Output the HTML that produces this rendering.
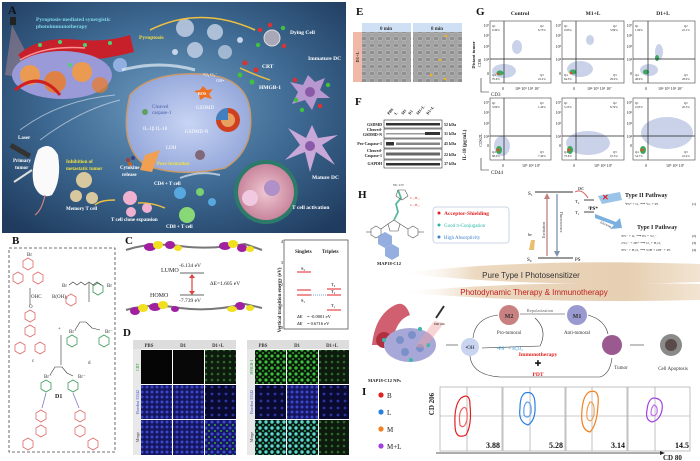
<!DOCTYPE html>
<html><head><meta charset="utf-8"><style>
html,body{margin:0;padding:0;background:#fff;width:700px;height:461px;overflow:hidden}
svg{display:block}
text{font-family:"Liberation Serif",serif}
.s{font-family:"Liberation Sans",sans-serif}
</style></head><body>
<svg width="700" height="461" viewBox="0 0 700 461" xmlns="http://www.w3.org/2000/svg">
<defs>
<radialGradient id="bgA" cx="0.5" cy="0.45" r="0.7">
<stop offset="0" stop-color="#6f9cc0"/><stop offset="0.5" stop-color="#3f6b94"/><stop offset="1" stop-color="#1f3b5e"/></radialGradient>
<radialGradient id="cellG" cx="0.5" cy="0.5" r="0.6"><stop offset="0" stop-color="#c8d4f4"/><stop offset="1" stop-color="#8fa3d8"/></radialGradient>
<radialGradient id="pinkG" cx="0.5" cy="0.5" r="0.6"><stop offset="0" stop-color="#f0c8d4"/><stop offset="1" stop-color="#c07890"/></radialGradient>
<linearGradient id="ban" x1="0" y1="0" x2="1" y2="0"><stop offset="0" stop-color="#fff" stop-opacity="0"/><stop offset="0.25" stop-color="#ecd9c0"/><stop offset="0.75" stop-color="#e6cfb2"/><stop offset="1" stop-color="#f2e4d2"/></linearGradient>
<pattern id="pg" width="6" height="6" patternUnits="userSpaceOnUse"><rect width="6" height="6" fill="#0a1a0a"/><circle cx="2" cy="2" r="1.6" fill="#3fbf3f"/><circle cx="5" cy="5" r="1.1" fill="#2a8a2a"/></pattern>
<pattern id="pgd" width="6" height="6" patternUnits="userSpaceOnUse"><rect width="6" height="6" fill="#0d1a0d"/><circle cx="2" cy="2" r="1.3" fill="#2a6a2a"/></pattern>
<pattern id="pb" width="5" height="5" patternUnits="userSpaceOnUse"><rect width="5" height="5" fill="#151560"/><circle cx="2" cy="2" r="1.5" fill="#3a48c8"/></pattern>
<pattern id="pbd" width="7" height="7" patternUnits="userSpaceOnUse"><rect width="7" height="7" fill="#0a0a30"/><circle cx="2" cy="2" r="1.4" fill="#2a34a0"/></pattern>
<pattern id="pc" width="6" height="6" patternUnits="userSpaceOnUse"><rect width="6" height="6" fill="#0a1a1a"/><circle cx="2" cy="2" r="1.7" fill="#5fd8c8"/><circle cx="5" cy="5" r="1.1" fill="#2aa060"/></pattern>
<pattern id="pm" width="6" height="6" patternUnits="userSpaceOnUse"><rect width="6" height="6" fill="#16166a"/><circle cx="2" cy="2" r="1.5" fill="#3a50c8"/><circle cx="5" cy="5" r="1" fill="#3aa040"/></pattern>
<pattern id="gr" width="8" height="7" patternUnits="userSpaceOnUse"><rect width="8" height="7" fill="#a4a4a4"/><ellipse cx="4" cy="3.5" rx="2.8" ry="2" fill="#8e8e8e" stroke="#c8c8c8" stroke-width="0.5"/></pattern>
</defs>

<!-- ========== PANEL A ========== -->
<rect x="2" y="2" width="344" height="231" fill="url(#bgA)"/>
<text x="8" y="14" font-size="12" font-weight="bold" fill="#111">A</text>
<text x="36" y="21" font-size="5.5" font-weight="bold" fill="#7fd8e8">Pyroptosis-mediated synergistic</text>
<text x="36" y="28" font-size="5.5" font-weight="bold" fill="#7fd8e8">photoimmunotherapy</text>
<rect x="10" y="17" width="6" height="8" fill="#222"/>
<polygon points="12,25 40,80 5,75" fill="#e8a0a0" opacity="0.35"/>
<path d="M18 55 Q40 35 80 40 Q110 42 130 35 L134 52 Q110 58 90 60 Q60 62 40 80 Z" fill="#c8202a"/>
<path d="M20 60 Q45 45 85 48" stroke="#ff9090" stroke-width="1.5" fill="none"/>
<ellipse cx="62" cy="75" rx="50" ry="24" fill="#9a9ad8"/>
<circle cx="30" cy="75" r="10" fill="#ff9a30" opacity="0.8"/><circle cx="55" cy="82" r="11" fill="#f07a20" opacity="0.8"/>
<circle cx="82" cy="72" r="10" fill="#ff9a30" opacity="0.8"/><circle cx="100" cy="85" r="8" fill="#f07a20" opacity="0.7"/>
<path d="M15 90 Q40 70 60 95" stroke="#d02020" stroke-width="3" fill="none"/>
<circle cx="40" cy="45" r="2" fill="#50d070"/><circle cx="60" cy="42" r="2" fill="#50d070"/><circle cx="85" cy="45" r="2" fill="#50d070"/><circle cx="110" cy="43" r="2" fill="#50d070"/><circle cx="70" cy="65" r="2" fill="#50d070"/>
<circle cx="120" cy="65" r="7" fill="#8fb0e0"/>
<path d="M20 130 Q60 100 115 95" stroke="#dfe8f5" stroke-width="1" fill="none" opacity="0.6"/>
<path d="M40 140 Q80 110 120 100" stroke="#dfe8f5" stroke-width="1" fill="none" opacity="0.6"/>
<path d="M122 70 Q160 60 195 70" stroke="#e6eef8" stroke-width="3" fill="none" opacity="0.7"/>
<circle cx="185" cy="28" r="9" fill="#c8d4e8" opacity="0.8"/><circle cx="215" cy="32" r="8" fill="#c8d4e8" opacity="0.8"/><circle cx="195" cy="50" r="8" fill="#c8d4e8" opacity="0.8"/><circle cx="225" cy="52" r="7" fill="#c8d4e8" opacity="0.7"/><circle cx="175" cy="52" r="3" fill="#c8d4e8"/><circle cx="240" cy="40" r="3" fill="#c8d4e8"/>
<text x="139" y="39" font-size="5.5" font-weight="bold" fill="#f0e040">Pyroptosis</text>
<path d="M150 30 Q200 5 255 30" stroke="#f0c040" stroke-width="1.6" fill="none"/>
<circle cx="272" cy="38" r="8" fill="#a8a8b8" stroke="#ddd" stroke-width="1"/>
<circle cx="260" cy="30" r="2.2" fill="#e03030"/><circle cx="283" cy="28" r="2.2" fill="#40c040"/><circle cx="258" cy="45" r="2.2" fill="#40c040"/><circle cx="284" cy="46" r="2.2" fill="#e03030"/><circle cx="270" cy="25" r="2.2" fill="#e03030"/>
<text x="290" y="34" font-size="5.5" font-weight="bold" fill="#fff">Dying Cell</text>
<text x="308" y="60" font-size="5.5" font-weight="bold" fill="#fff">Immature DC</text>
<text x="262" y="68" font-size="5.5" font-weight="bold" fill="#fff">CRT</text>
<text x="259" y="89" font-size="5.5" font-weight="bold" fill="#fff">HMGB-1</text>
<circle cx="245" cy="63" r="2.5" fill="#e03030"/><circle cx="256" cy="70" r="2.5" fill="#e03030"/><circle cx="240" cy="75" r="2.5" fill="#40c040"/><circle cx="252" cy="82" r="2.5" fill="#40c040"/>
<path d="M240 68 Q255 75 270 80" stroke="#f0c040" stroke-width="1.4" fill="none"/>
<path d="M308 75 L315 82 L325 78 L320 90 L330 98 L317 98 L312 110 L305 100 L292 104 L298 92 L290 82 L303 85 Z" fill="#b898d0"/>
<circle cx="310" cy="92" r="5" fill="#8a5aa8"/>
<circle cx="295" cy="80" r="2.2" fill="#e03030"/><circle cx="328" cy="85" r="2.2" fill="#40c040"/><circle cx="296" cy="100" r="2.2" fill="#40c040"/><circle cx="320" cy="106" r="2.2" fill="#e03030"/><circle cx="302" cy="110" r="2.2" fill="#40c040"/>
<path d="M312 125 L318 138 L338 135 L322 145 L335 165 L316 152 L310 172 L305 152 L285 160 L300 145 L288 128 L306 138 Z" fill="#c8a8d8"/>
<circle cx="310" cy="146" r="5" fill="#8a5aa8"/>
<text x="312" y="179" font-size="5.5" font-weight="bold" fill="#fff">Mature DC</text>
<path d="M130 95 Q150 72 200 74 Q245 76 250 110 Q255 150 225 168 Q180 178 145 165 Q118 145 130 95 Z" fill="url(#cellG)" stroke="#c89a70" stroke-width="1.5"/>
<polygon points="203,86 207,90 213,89 209,94 212,99 205,97 200,100 199,94 194,91 200,90" fill="#f07020"/>
<text x="198" y="95" font-size="4" fill="#fff" font-weight="bold">ROS</text>
<text x="203" y="76" font-size="4.5" fill="#fff">¹O₂ O₂⁻</text><text x="216" y="82" font-size="4.5" fill="#fff">OH•</text>
<text x="152" y="108" font-size="5" fill="#4b5ea8">Cleaved</text><text x="152" y="114" font-size="5" fill="#4b5ea8">caspase-1</text>
<text x="196" y="109" font-size="5" fill="#fff">GSDMD</text>
<text x="143" y="130" font-size="5" fill="#fff">IL-1β  IL-18</text>
<text x="185" y="133" font-size="5" fill="#fff">GSDMD-N</text>
<text x="166" y="149" font-size="5" fill="#fff">LDH</text>
<circle cx="228" cy="120" r="12" fill="#d04020"/><circle cx="228" cy="120" r="7" fill="#e8a060"/><path d="M216 120 A12 12 0 0 1 228 108 L228 120Z" fill="#4080c0"/>
<circle cx="145" cy="112" r="3" fill="#60a060"/>
<circle cx="200" cy="155" r="5" fill="#806878"/>
<polygon points="145,155 160,150 152,172 140,170" fill="#f0a050"/>
<text x="157" y="165" font-size="5" font-weight="bold" fill="#f0e040">Pore formation</text>
<circle cx="128" cy="160" r="2" fill="#a04040"/><circle cx="133" cy="158" r="2" fill="#404080"/><circle cx="130" cy="164" r="2" fill="#c06020"/>
<text x="120" y="169" font-size="5" font-weight="bold" fill="#fff">Cytokine</text><text x="122" y="176" font-size="5" font-weight="bold" fill="#fff">release</text>
<circle cx="266" cy="192" r="32" fill="#2d7a6a"/>
<circle cx="266" cy="192" r="28" fill="url(#pinkG)"/>
<circle cx="250" cy="198" r="8" fill="#f0c8e0"/><circle cx="272" cy="188" r="8" fill="#b090c8"/>
<path d="M220 175 Q200 170 180 178" stroke="#dfe8f5" stroke-width="2" fill="none" opacity="0.7"/>
<text x="292" y="209" font-size="5.5" font-weight="bold" fill="#fff">T cell activation</text>
<text x="154" y="185" font-size="5" font-weight="bold" fill="#fff">CD4 + T cell</text>
<text x="166" y="228" font-size="5" font-weight="bold" fill="#fff">CD8 + T cell</text>
<circle cx="180" cy="193" r="6" fill="#58a8e0"/><circle cx="200" cy="192" r="4" fill="#7ad070"/><circle cx="212" cy="202" r="4" fill="#58a8e0"/><circle cx="187" cy="215" r="8" fill="#88d878"/>
<circle cx="130" cy="198" r="7" fill="#f0b0d0"/><circle cx="147" cy="208" r="5" fill="#f0b0d0"/><circle cx="131" cy="212" r="5" fill="#f0b0d0"/>
<text x="111" y="221" font-size="5" font-weight="bold" fill="#fff">T cell clone expansion</text>
<circle cx="84" cy="180" r="8" fill="#d8c8a0"/><circle cx="76" cy="196" r="6" fill="#d8c8a0"/><circle cx="92" cy="198" r="6" fill="#d8c8a0"/>
<text x="66" y="210" font-size="5" font-weight="bold" fill="#fff">Memory T cell</text>
<text x="66" y="163" font-size="5" font-weight="bold" fill="#f0e040">Inhibition of</text><text x="66" y="170" font-size="5" font-weight="bold" fill="#f0e040">metastatic tumor</text>
<text x="18" y="139" font-size="5" font-weight="bold" fill="#fff">Laser</text>
<text x="13" y="162" font-size="5" font-weight="bold" fill="#fff">Primary</text><text x="15" y="169" font-size="5" font-weight="bold" fill="#fff">tumor</text>
<rect x="12" y="143" width="22" height="5" fill="#333" transform="rotate(30 12 143)"/>
<path d="M38 150 Q50 140 58 155 Q62 180 52 195 Q40 200 34 185 Q30 170 38 150Z" fill="#fafafa"/>
<path d="M45 195 Q42 210 35 215" stroke="#d08080" stroke-width="1.2" fill="none"/>
<line x1="14" y1="182" x2="32" y2="170" stroke="#ddd" stroke-width="2"/>
<path d="M115 200 Q100 200 95 205" stroke="#f0c040" stroke-width="1.4" fill="none"/>
<path d="M165 208 Q150 202 138 203" stroke="#f0c040" stroke-width="1.4" fill="none"/>

<!-- ========== PANEL B ========== -->
<text x="12" y="244" font-size="11" font-weight="bold" fill="#111">B</text>
<rect x="9" y="248" width="106" height="204" fill="none" stroke="#444" stroke-width="0.8" stroke-dasharray="3,2"/>
<g stroke="#e06a6a" fill="none" stroke-width="0.8">
<polygon points="28,258 33,261 33,267 28,270 23,267 23,261"/>
<polygon points="18,272 23,275 23,281 18,284 13,281 13,275"/>
<polygon points="38,272 43,275 43,281 38,284 33,281 33,275"/>
<polygon points="30,325 35,328 35,334 30,337 25,334 25,328"/>
<polygon points="20,342 25,345 25,351 20,354 15,351 15,345"/>
<polygon points="40,342 45,345 45,351 40,354 35,351 35,345"/>
<polygon points="30,310 35,313 35,319 30,322 25,319 25,313"/>
<polygon points="41,410 46,413 46,419 41,422 36,419 36,413"/>
<polygon points="41,425 46,428 46,434 41,437 36,434 36,428"/>
<polygon points="28,438 33,441 33,447 28,450 23,447 23,441"/>
<polygon points="80,410 85,413 85,419 80,422 75,419 75,413"/>
<polygon points="80,425 85,428 85,434 80,437 75,434 75,428"/>
<polygon points="93,438 98,441 98,447 93,450 88,447 88,441"/>
<polygon points="71,294 76,297 76,303 71,306 66,303 66,297"/>
</g>
<g stroke="#3a9a5a" fill="none" stroke-width="0.8">
<polygon points="98,283 103,286 103,292 98,295 93,292 93,286"/>
<polygon points="72,335 77,338 77,344 72,347 67,344 67,338"/>
<polygon points="104,335 109,338 109,344 104,347 99,344 99,338"/>
<polygon points="46,380 51,383 51,389 46,392 41,389 41,383"/>
<polygon points="73,380 78,383 78,389 73,392 68,389 68,383"/>
</g>
<text x="27" y="256" font-size="5" fill="#333">Br</text>
<text x="62" y="287" font-size="5" fill="#333">Br</text><text x="107" y="287" font-size="5" fill="#333">Br</text>
<path d="M69 285 l4 -3 l4 3 l4 -3 l4 3 l4 -3 l4 3 l4 -3 l4 3" stroke="#333" fill="none" stroke-width="0.6"/>
<line x1="30" y1="288" x2="30" y2="305" stroke="#333" stroke-width="0.6"/>
<text x="31" y="298" font-size="5" fill="#333">OHC</text><text x="52" y="298" font-size="5" fill="#333">B(OH)₂</text>
<line x1="89" y1="283" x2="89" y2="302" stroke="#333" stroke-width="0.6"/>
<text x="29" y="308" font-size="5" fill="#333">O</text>
<text x="32" y="362" font-size="5" fill="#333">c</text><text x="88" y="364" font-size="5" fill="#333">d</text>
<text x="58" y="330" font-size="5" fill="#333">+</text>
<line x1="61" y1="335" x2="61" y2="365" stroke="#333" stroke-width="0.6"/>
<text x="69" y="333" font-size="5" fill="#333">Br⁻</text><text x="105" y="333" font-size="5" fill="#333">Br⁻</text>
<path d="M75 330 L80 322 L86 322 L92 328 L100 330" stroke="#333" fill="none" stroke-width="0.6"/>
<text x="44" y="378" font-size="5" fill="#333">Br⁻</text><text x="78" y="378" font-size="5" fill="#333">Br⁻</text>
<path d="M50 375 L55 367 L62 367 L67 373 L73 376" stroke="#333" fill="none" stroke-width="0.6"/>
<text x="55" y="398" font-size="6" font-weight="bold" fill="#222">D1</text>
<line x1="46" y1="393" x2="42" y2="408" stroke="#7a7acc" stroke-width="0.8"/><line x1="73" y1="393" x2="79" y2="408" stroke="#7a7acc" stroke-width="0.8"/>

<!-- ========== PANEL C ========== -->
<text x="125" y="244" font-size="11" font-weight="bold" fill="#111">C</text>
<path d="M126 250 Q150 242 180 246 Q210 250 245 244 L262 250" stroke="#777" stroke-width="2" fill="none"/>
<g fill="#a020a0"><ellipse cx="150" cy="247" rx="6" ry="4"/><ellipse cx="170" cy="245" rx="5" ry="4"/><ellipse cx="225" cy="246" rx="6" ry="4"/><ellipse cx="242" cy="248" rx="5" ry="4"/></g>
<g fill="#f0e020"><ellipse cx="158" cy="245" rx="5" ry="4"/><ellipse cx="178" cy="248" rx="4" ry="3"/><ellipse cx="233" cy="244" rx="5" ry="4"/><ellipse cx="250" cy="249" rx="4" ry="3"/></g>
<text x="161" y="272" font-size="6" fill="#222">LUMO</text>
<text x="179" y="267" font-size="5.5" fill="#222">-6.134 eV</text>
<line x1="180" y1="273" x2="204" y2="273" stroke="#333" stroke-width="0.8"/>
<line x1="192" y1="276" x2="192" y2="293" stroke="#e04040" stroke-width="1.2"/>
<polygon points="189,278 192,274 195,278" fill="#e04040"/><polygon points="189,291 192,295 195,291" fill="#e04040"/>
<text x="210" y="285" font-size="5.5" fill="#222">ΔE=1.605 eV</text>
<text x="150" y="297" font-size="6" fill="#222">HOMO</text>
<line x1="180" y1="295" x2="204" y2="295" stroke="#333" stroke-width="0.8"/>
<text x="179" y="302" font-size="5.5" fill="#222">-7.739 eV</text>
<path d="M126 310 Q150 303 180 308 Q210 312 245 304 L262 308" stroke="#777" stroke-width="2" fill="none"/>
<g fill="#a020a0"><ellipse cx="135" cy="311" rx="5" ry="4"/><ellipse cx="155" cy="307" rx="6" ry="4"/><ellipse cx="175" cy="309" rx="4" ry="3"/><ellipse cx="240" cy="306" rx="5" ry="4"/></g>
<g fill="#f0e020"><ellipse cx="143" cy="308" rx="5" ry="4"/><ellipse cx="163" cy="305" rx="5" ry="4"/><ellipse cx="232" cy="309" rx="5" ry="3"/><ellipse cx="250" cy="308" rx="4" ry="3"/></g>
<rect x="284" y="240" width="64" height="89" fill="#fff" stroke="#555" stroke-width="0.8"/>
<text x="281" y="300" font-size="5" fill="#222" transform="rotate(-90 281 300)" text-anchor="middle" font-weight="bold">Vertical transition energy (eV)</text>
<text x="283" y="243" font-size="4.5" fill="#222" text-anchor="end">4</text><text x="283" y="264" font-size="4.5" fill="#222" text-anchor="end">3</text><text x="283" y="286" font-size="4.5" fill="#222" text-anchor="end">2</text><text x="283" y="307" font-size="4.5" fill="#222" text-anchor="end">1</text><text x="283" y="329" font-size="4.5" fill="#222" text-anchor="end">0</text>
<text x="295" y="253" font-size="5" font-weight="bold" fill="#222">Singlets</text><text x="322" y="253" font-size="5" font-weight="bold" fill="#222">Triplets</text>
<line x1="297" y1="272" x2="311" y2="272" stroke="#e02020" stroke-width="1"/><text x="301" y="270" font-size="4.5">S₂</text>
<line x1="297" y1="290" x2="311" y2="290" stroke="#e02020" stroke-width="1"/>
<line x1="297" y1="295" x2="311" y2="295" stroke="#e02020" stroke-width="1"/><text x="301" y="302" font-size="4.5">S₁</text>
<line x1="311" y1="295" x2="327" y2="295" stroke="#4080c0" stroke-width="0.8" stroke-dasharray="1,1"/>
<line x1="327" y1="289" x2="341" y2="289" stroke="#e02020" stroke-width="1"/><text x="331" y="286" font-size="4.5">T₃</text>
<line x1="327" y1="295" x2="341" y2="295" stroke="#e02020" stroke-width="1"/><text x="331" y="293" font-size="4.5">T₂</text>
<line x1="327" y1="310" x2="341" y2="310" stroke="#e02020" stroke-width="1"/><text x="331" y="307" font-size="4.5">T₁</text>
<text x="297" y="318" font-size="4.5" font-style="italic">ΔE</text><text x="307" y="318" font-size="4.5">= -0.0001 eV</text>
<text x="297" y="325" font-size="4.5" font-style="italic">ΔE</text><text x="307" y="325" font-size="4.5">= 0.6716 eV</text>

<!-- ========== PANEL D ========== -->
<text x="123" y="336" font-size="11" font-weight="bold" fill="#111">D</text>
<g font-size="4.8" font-weight="bold" fill="#333" text-anchor="middle">
<rect x="133" y="340" width="103" height="9" fill="#ddd"/>
<text x="149" y="347">PBS</text><text x="183" y="347">D1</text><text x="218" y="347">D1+L</text>
<rect x="247" y="340" width="102" height="9" fill="#ddd"/>
<text x="263" y="347">PBS</text><text x="297" y="347">D1</text><text x="332" y="347">D1+L</text>
</g>
<rect x="133" y="349" width="8" height="106" fill="#e8e8e8"/><rect x="247" y="349" width="8" height="106" fill="#e8e8e8"/>
<g font-size="4" fill="#444" text-anchor="middle">
<text x="139" y="367" transform="rotate(-90 139 367)" fill="#2a9a2a">CRT</text>
<text x="139" y="402" transform="rotate(-90 139 402)" fill="#3a48c8">Hoechst 33342</text>
<text x="139" y="437" transform="rotate(-90 139 437)">Merge</text>
<text x="253" y="367" transform="rotate(-90 253 367)" fill="#2a9a2a">HMGB-1</text>
<text x="253" y="402" transform="rotate(-90 253 402)" fill="#3a48c8">Hoechst 33342</text>
<text x="253" y="437" transform="rotate(-90 253 437)">Merge</text>
</g>
<rect x="141" y="350" width="31" height="34" fill="#050505"/><rect x="173" y="350" width="31" height="34" fill="#080808"/><rect x="205" y="350" width="31" height="34" fill="url(#pgd)"/>
<rect x="141" y="385" width="31" height="34" fill="url(#pb)"/><rect x="173" y="385" width="31" height="34" fill="url(#pb)"/><rect x="205" y="385" width="31" height="34" fill="url(#pbd)"/>
<rect x="141" y="420" width="31" height="35" fill="url(#pb)"/><rect x="173" y="420" width="31" height="35" fill="url(#pb)"/><rect x="205" y="420" width="31" height="35" fill="url(#pm)"/>
<rect x="255" y="350" width="31" height="34" fill="url(#pg)"/><rect x="287" y="350" width="31" height="34" fill="url(#pg)"/><rect x="319" y="350" width="30" height="34" fill="url(#pgd)"/>
<rect x="255" y="385" width="31" height="34" fill="url(#pbd)"/><rect x="287" y="385" width="31" height="34" fill="url(#pb)"/><rect x="319" y="385" width="30" height="34" fill="url(#pbd)"/>
<rect x="255" y="420" width="31" height="35" fill="url(#pc)"/><rect x="287" y="420" width="31" height="35" fill="url(#pc)"/><rect x="319" y="420" width="30" height="35" fill="url(#pgd)"/>

<!-- ========== PANEL E ========== -->
<text x="356" y="15" font-size="11" font-weight="bold" fill="#111">E</text>
<rect x="353" y="32" width="9" height="50" fill="#f0b8a8"/>
<text x="359" y="57" font-size="4.5" font-weight="bold" fill="#333" transform="rotate(-90 359 57)" text-anchor="middle">D1+L</text>
<rect x="362" y="23" width="49" height="9" fill="#cfe0f4"/><rect x="413" y="23" width="49" height="9" fill="#cfe0f4"/>
<text x="386" y="30" font-size="5" font-weight="bold" text-anchor="middle" fill="#333">0 min</text>
<text x="437" y="30" font-size="5" font-weight="bold" text-anchor="middle" fill="#333">8 min</text>
<rect x="362" y="32" width="49" height="50" fill="url(#gr)"/>
<rect x="413" y="32" width="49" height="50" fill="url(#gr)"/>
<g fill="#f0b020"><circle cx="446" cy="36" r="1.3"/><circle cx="440" cy="60" r="1.3"/><circle cx="431" cy="75" r="1.3"/><circle cx="445" cy="79" r="1.3"/></g>

<!-- ========== PANEL F ========== -->
<text x="355" y="105" font-size="11" font-weight="bold" fill="#111">F</text>
<g font-size="4" fill="#222" font-weight="bold">
<text x="389" y="115" transform="rotate(-50 389 115)">PBS</text><text x="396" y="115" transform="rotate(-50 396 115)">L</text><text x="403" y="115" transform="rotate(-50 403 115)">M1</text><text x="410" y="115" transform="rotate(-50 410 115)">D1</text><text x="418" y="115" transform="rotate(-50 418 115)">M1+L</text><text x="428" y="115" transform="rotate(-50 428 115)">D1+L</text>
<text x="382" y="126" text-anchor="end">GSDMD</text>
<text x="382" y="131" text-anchor="end">Cleaved-</text><text x="382" y="136" text-anchor="end">GSDMD-N</text>
<text x="382" y="145" text-anchor="end">Pro-Caspase-1</text>
<text x="382" y="152" text-anchor="end">Cleaved-</text><text x="382" y="157" text-anchor="end">Caspase-1</text>
<text x="382" y="165" text-anchor="end">GAPDH</text>
<text x="444" y="126">52 kDa</text><text x="444" y="135">31 kDa</text><text x="444" y="145">45 kDa</text><text x="444" y="156">22 kDa</text><text x="444" y="165">37 kDa</text>
</g>
<g fill="#fff" stroke="#333" stroke-width="0.6">
<rect x="384" y="120" width="58" height="8"/><rect x="384" y="129" width="58" height="9"/><rect x="384" y="139" width="58" height="9"/><rect x="384" y="149" width="58" height="10"/><rect x="384" y="160" width="58" height="8"/>
</g>
<g fill="#333">
<rect x="386" y="123" width="54" height="2.5"/><rect x="386" y="133" width="54" height="1.5" opacity="0.5"/><rect x="425" y="132" width="15" height="3"/>
<rect x="386" y="142" width="8" height="3.5"/><rect x="396" y="142.5" width="44" height="2.5" opacity="0.6"/>
<rect x="386" y="152.5" width="54" height="3" opacity="0.75"/><rect x="386" y="163" width="54" height="2.5"/>
</g>
<text x="466" y="145" font-size="5" font-weight="bold" fill="#222" transform="rotate(-90 466 145)" text-anchor="middle">IL-18 (pg/mL)</text>

<!-- ========== PANEL G ========== -->
<text x="476" y="15" font-size="11" font-weight="bold" fill="#111">G</text>
<g font-size="5.5" font-weight="bold" fill="#222" text-anchor="middle"><text x="520" y="15">Control</text><text x="593" y="15">M1+L</text><text x="663" y="15">D1+L</text></g>
<text x="475" y="55" font-size="4.5" font-weight="bold" fill="#222" transform="rotate(-90 475 55)" text-anchor="middle">Distant tumor</text>
<text x="481" y="63" font-size="4.5" fill="#222" transform="rotate(-90 481 63)" text-anchor="middle">CD8</text>
<polyline points="481,78 481,92 489,92" fill="none" stroke="#222" stroke-width="0.6"/>
<text x="491" y="96" font-size="5" fill="#222">CD3</text>
<text x="482" y="140" font-size="4.5" fill="#222" transform="rotate(-90 482 140)" text-anchor="middle">CD62L</text>
<polyline points="481,158 481,170 489,170" fill="none" stroke="#222" stroke-width="0.6"/>
<text x="491" y="174" font-size="5" fill="#222">CD44</text>
<g fill="#fff" stroke="#444" stroke-width="0.6">
<rect x="490" y="21" width="61" height="62"/><rect x="562" y="21" width="62" height="62"/><rect x="633" y="21" width="62" height="62"/>
<rect x="490" y="98" width="61" height="62"/><rect x="562" y="98" width="62" height="62"/><rect x="633" y="98" width="62" height="62"/>
</g>
<g fill="#7a90c8" opacity="0.4">
<ellipse cx="504" cy="71" rx="12" ry="7"/><ellipse cx="517" cy="47" rx="5" ry="7"/>
<ellipse cx="580" cy="69" rx="13" ry="8"/><ellipse cx="590" cy="40" rx="4" ry="5"/>
<ellipse cx="649" cy="70" rx="9" ry="6"/><ellipse cx="659" cy="52" rx="4" ry="8"/>
<ellipse cx="502" cy="146" rx="8" ry="10"/>
<ellipse cx="588" cy="143" rx="22" ry="12"/>
<ellipse cx="667" cy="133" rx="26" ry="16"/>
</g>
<g fill="#3aa860"><ellipse cx="500" cy="73" rx="3.5" ry="2.5"/><ellipse cx="573" cy="72" rx="3.5" ry="2.5"/><ellipse cx="646" cy="72" rx="3" ry="2.5"/><ellipse cx="657" cy="58" rx="2" ry="3"/><ellipse cx="499" cy="150" rx="3" ry="4"/><ellipse cx="570" cy="150" rx="3" ry="4"/><ellipse cx="643" cy="150" rx="3" ry="4"/></g>
<g fill="#e05020"><circle cx="498" cy="74" r="1.2"/><circle cx="571" cy="73" r="1.3"/><circle cx="498" cy="150" r="1.5"/><circle cx="569" cy="150" r="1.5"/><circle cx="642" cy="150" r="1.5"/></g>
<g stroke="#222" stroke-width="0.7">
<line x1="504" y1="21" x2="504" y2="83"/><line x1="490" y1="59" x2="551" y2="59"/>
<line x1="576" y1="21" x2="576" y2="83"/><line x1="562" y1="59" x2="624" y2="59"/>
<line x1="648" y1="21" x2="648" y2="83"/><line x1="633" y1="59" x2="695" y2="59"/>
<line x1="504" y1="98" x2="504" y2="160"/><line x1="490" y1="136" x2="551" y2="136"/>
<line x1="576" y1="98" x2="576" y2="160"/><line x1="562" y1="136" x2="624" y2="136"/>
<line x1="648" y1="98" x2="648" y2="160"/><line x1="633" y1="136" x2="695" y2="136"/>
</g>
<g font-size="3" fill="#222">
<text x="492" y="27">Q1</text><text x="492" y="31">0.49%</text><text x="540" y="27">Q2</text><text x="538" y="31">6.75%</text>
<text x="492" y="76">Q4</text><text x="492" y="80">70.6%</text><text x="540" y="76">Q3</text><text x="538" y="80">22.2%</text>
<text x="564" y="27">Q1</text><text x="564" y="31">0.83%</text><text x="613" y="27">Q2</text><text x="610" y="31">5.89%</text>
<text x="564" y="76">Q4</text><text x="564" y="80">64.3%</text><text x="613" y="76">Q3</text><text x="610" y="80">29.0%</text>
<text x="635" y="27">Q1</text><text x="635" y="31">1.09%</text><text x="684" y="27">Q2</text><text x="682" y="31">22.1%</text>
<text x="635" y="76">Q4</text><text x="635" y="80">48.9%</text><text x="684" y="76">Q3</text><text x="682" y="80">28.0%</text>
<text x="492" y="104">Q1</text><text x="492" y="108">3.09%</text><text x="540" y="104">Q2</text><text x="538" y="108">1.40%</text>
<text x="492" y="153">Q4</text><text x="492" y="157">88.0%</text><text x="540" y="153">Q3</text><text x="538" y="157">7.49%</text>
<text x="564" y="104">Q1</text><text x="564" y="108">5.25%</text><text x="613" y="104">Q2</text><text x="610" y="108">6.79%</text>
<text x="564" y="153">Q4</text><text x="564" y="157">73.6%</text><text x="613" y="153">Q3</text><text x="610" y="157">10.3%</text>
<text x="635" y="104">Q1</text><text x="635" y="108">2.65%</text><text x="684" y="104">Q2</text><text x="682" y="108">20.3%</text>
<text x="635" y="153">Q4</text><text x="635" y="157">54.7%</text><text x="684" y="153">Q3</text><text x="682" y="157">22.4%</text>
</g>
<g font-size="4" fill="#222">
<text x="502" y="90">0</text><text x="515" y="90">10⁴ 10⁵ 10⁶ 10⁷</text>
<text x="573" y="90">0</text><text x="587" y="90">10⁴ 10⁵ 10⁶ 10⁷</text>
<text x="645" y="90">0</text><text x="658" y="90">10⁴ 10⁵ 10⁶ 10⁷</text>
<text x="502" y="167">0</text><text x="522" y="167">10⁵ 10⁶ 10⁷</text>
<text x="573" y="167">0</text><text x="594" y="167">10⁵ 10⁶ 10⁷</text>
<text x="645" y="167">0</text><text x="666" y="167">10⁵ 10⁶ 10⁷</text>
<text x="489" y="27" text-anchor="end">10⁷</text><text x="489" y="37" text-anchor="end">10⁶</text><text x="489" y="48" text-anchor="end">10⁵</text><text x="489" y="61" text-anchor="end">10⁴</text><text x="489" y="75" text-anchor="end">0</text>
<text x="561" y="27" text-anchor="end">10⁷</text><text x="561" y="37" text-anchor="end">10⁶</text><text x="561" y="48" text-anchor="end">10⁵</text><text x="561" y="61" text-anchor="end">10⁴</text><text x="561" y="75" text-anchor="end">0</text>
<text x="632" y="27" text-anchor="end">10⁷</text><text x="632" y="37" text-anchor="end">10⁶</text><text x="632" y="48" text-anchor="end">10⁵</text><text x="632" y="61" text-anchor="end">10⁴</text><text x="632" y="75" text-anchor="end">0</text>
<text x="489" y="104" text-anchor="end">10⁷</text><text x="489" y="114" text-anchor="end">10⁶</text><text x="489" y="125" text-anchor="end">10⁵</text><text x="489" y="138" text-anchor="end">10⁴</text><text x="489" y="147" text-anchor="end">0</text>
<text x="561" y="104" text-anchor="end">10⁷</text><text x="561" y="114" text-anchor="end">10⁶</text><text x="561" y="125" text-anchor="end">10⁵</text><text x="561" y="138" text-anchor="end">10⁴</text><text x="561" y="147" text-anchor="end">0</text>
<text x="632" y="104" text-anchor="end">10⁷</text><text x="632" y="114" text-anchor="end">10⁶</text><text x="632" y="125" text-anchor="end">10⁵</text><text x="632" y="138" text-anchor="end">10⁴</text><text x="632" y="147" text-anchor="end">0</text>
</g>

<!-- ========== PANEL H ========== -->
<text x="358" y="198" font-size="11" font-weight="bold" fill="#111">H</text>
<g stroke="#555" stroke-width="0.6" fill="none">
<polygon points="376,226 381,229 381,235 376,238 371,235 371,229"/>
<polygon points="413,226 418,229 418,235 413,238 408,235 408,229"/>
<polygon points="394,220 400,224 398,231 390,231 388,224"/>
<polyline points="381,229 388,224"/><polyline points="400,224 408,229"/>
<polyline points="371,232 366,232"/><polyline points="418,232 424,232"/>
</g>
<polyline points="394,220 398,212 396,204 401,198 398,190" stroke="#5ab8a0" stroke-width="1.8" fill="none"/>
<polygon points="398,190 405,190 408,196 402,200 396,196" fill="none" stroke="#555" stroke-width="0.6"/>
<g fill="#7a9ad8" opacity="0.8"><polygon points="385,232 392,236 392,244 385,248 378,244 378,236"/><polygon points="392,244 399,248 399,256 392,260 385,256 385,248"/></g>
<text x="393" y="186" font-size="3.5" fill="#333">NC   CN</text>
<text x="410" y="199" font-size="3.5" fill="#e03030">C₁₂H₂₅</text><text x="410" y="206" font-size="3.5" fill="#e03030">C₁₂H₂₅</text>
<text x="377" y="265" font-size="4.5" font-weight="bold" fill="#222">MAP18-C12</text>
<rect x="433" y="207" width="76" height="36" rx="3" fill="#fff" stroke="#bcc8dc" stroke-width="0.8"/>
<circle cx="439" cy="213" r="1.5" fill="#e02020"/><text x="444" y="215" font-size="5.5" font-weight="bold" fill="#e02020">Acceptor-Shielding</text>
<circle cx="439" cy="225" r="1.5" fill="#2ab8a8"/><text x="444" y="227" font-size="5" fill="#2ab8a8">Good π-Conjugation</text>
<circle cx="439" cy="237" r="1.5" fill="#3a80c8"/><text x="444" y="239" font-size="5" fill="#3a80c8">High Absorptivity</text>
<line x1="535" y1="192" x2="573" y2="192" stroke="#333" stroke-width="0.9"/><text x="528" y="195" font-size="5">S₁</text>
<line x1="538" y1="258" x2="573" y2="258" stroke="#333" stroke-width="0.9"/><text x="527" y="261" font-size="5">S₀</text><text x="575" y="261" font-size="5">PS</text>
<line x1="584" y1="200" x2="594" y2="200" stroke="#333" stroke-width="0.9"/><text x="575" y="203" font-size="4.5">T₂</text>
<line x1="584" y1="212" x2="594" y2="212" stroke="#333" stroke-width="0.9"/><text x="575" y="214" font-size="4.5">T₁</text>
<text x="588" y="210" font-size="5" font-weight="bold">³PS*</text>
<line x1="547" y1="256" x2="547" y2="196" stroke="#c08080" stroke-width="1.3"/><polygon points="544,199 547,193 550,199" fill="#c08080"/>
<line x1="557" y1="194" x2="557" y2="254" stroke="#8090b0" stroke-width="1.3"/><polygon points="554,251 557,257 560,251" fill="#8090b0"/>
<text x="545" y="230" font-size="4" fill="#444" transform="rotate(-90 545 230)" text-anchor="middle">Excitation</text>
<text x="560" y="222" font-size="4" fill="#444" transform="rotate(90 560 222)" text-anchor="middle">Fluorescence</text>
<text x="528" y="236" font-size="4" font-style="italic">hν</text>
<polygon points="531,240 535,240 534,250 529,250" fill="#e8c070"/>
<path d="M575 192 Q582 188 588 198" stroke="#d06060" stroke-width="1" fill="none"/>
<text x="578" y="190" font-size="4" font-style="italic">ISC</text>
<polygon points="598,196 620,192 622,200 602,204" fill="#9ac4e8"/>
<text x="602" y="200" font-size="8" fill="#e02020" font-weight="bold">✕</text>
<polygon points="595,214 616,222 620,218 622,228 610,229 614,225 595,218" fill="#7ab0e0"/>
<text x="600" y="223" font-size="3.5" fill="#333" transform="rotate(25 600 223)">Electron</text>
<text x="625" y="197" font-size="6" font-weight="bold" fill="#222">Type II Pathway</text>
<text x="625" y="205" font-size="3.5" fill="#333">³PS* + O₂ ⟶ ¹O₂ + PS</text><text x="692" y="205" font-size="3.5">(1)</text>
<text x="637" y="229" font-size="6" font-weight="bold" fill="#222">Type I Pathway</text>
<text x="621" y="237" font-size="3.5" fill="#333">•PS⁻ + O₂ ⟶ PS + •O₂⁻</text><text x="692" y="237" font-size="3.5">(2)</text>
<text x="621" y="244" font-size="3.5" fill="#333">2•O₂⁻ + 2H⁺ ⟶ O₂ + H₂O₂</text><text x="692" y="244" font-size="3.5">(3)</text>
<text x="621" y="251" font-size="3.5" fill="#333">•PS⁻ + H₂O₂ ⟶ •OH + OH⁻ + PS</text><text x="692" y="251" font-size="3.5">(4)</text>
<path d="M400 273 Q530 258 700 264 L700 282 Q530 288 400 273Z" fill="url(#ban)"/>
<text x="531" y="278" font-size="8" text-anchor="middle" fill="#333" class="s">Pure Type I Photosensitizer</text>
<path d="M400 292 Q530 280 700 284 L700 300 Q530 304 400 292Z" fill="url(#ban)"/>
<text x="534" y="295" font-size="8" text-anchor="middle" fill="#c02020" class="s">Photodynamic Therapy &amp; Immunotherapy</text>
<path d="M372 345 Q375 315 395 305 Q405 300 410 315 Q395 320 392 345Z" fill="#d06070"/>
<circle cx="384" cy="340" r="8" fill="#b03040"/>
<ellipse cx="410" cy="345" rx="26" ry="17" fill="#a8a8d8"/>
<g fill="#7a90c8"><circle cx="400" cy="340" r="4"/><circle cx="412" cy="335" r="4"/><circle cx="420" cy="348" r="4"/><circle cx="405" cy="352" r="4"/></g>
<g fill="#3ab8a8"><circle cx="384" cy="340" r="2"/><circle cx="420" cy="329" r="2"/><circle cx="428" cy="345" r="2"/><circle cx="411" cy="360" r="2"/></g>
<polygon points="434,321 444,323 425,348 415,347" fill="#f0a0a0" opacity="0.45"/>
<line x1="436" y1="318" x2="444" y2="306" stroke="#333" stroke-width="2"/>
<text x="434" y="325" font-size="3.5" fill="#222">660 nm</text>
<text x="368" y="382" font-size="4.5" font-weight="bold" fill="#222">MAP18-C12 NPs</text>
<line x1="446" y1="345" x2="458" y2="345" stroke="#333" stroke-width="0.6"/>
<circle cx="470" cy="347" r="9" fill="#c8d4f0"/><text x="470" y="349" font-size="5" text-anchor="middle" fill="#223">•OH</text>
<path d="M473 338 Q475 318 498 315" stroke="#333" stroke-width="0.6" fill="none"/>
<path d="M535 318 Q548 330 540 346 L482 348" stroke="#333" stroke-width="0.6" fill="none"/>
<path d="M470 356 Q472 375 500 377 L600 377 Q610 374 612 358" stroke="#333" stroke-width="0.6" fill="none"/>
<circle cx="509" cy="315" r="10" fill="#c88080"/><text x="509" y="318" font-size="6" text-anchor="middle" font-weight="bold" fill="#333">M2</text>
<text x="509" y="334" font-size="5" text-anchor="middle" fill="#333">Pro-tumoral</text>
<text x="540" y="312" font-size="4.5" text-anchor="middle" fill="#666">Repolarization</text>
<line x1="520" y1="314" x2="565" y2="314" stroke="#333" stroke-width="0.6"/>
<circle cx="577" cy="315" r="10" fill="#9a9ad0"/><text x="577" y="318" font-size="6" text-anchor="middle" font-weight="bold" fill="#333">M1</text>
<text x="577" y="334" font-size="5" text-anchor="middle" fill="#333">Anti-tumoral</text>
<path d="M588 315 Q605 320 608 334" stroke="#333" stroke-width="0.6" fill="none"/>
<text x="497" y="350" font-size="5" fill="#2a9ad0">•PS⁻ + H₂O₂</text>
<text x="538" y="356" font-size="5.5" text-anchor="middle" font-weight="bold" fill="#e02020">Immunotherapy</text>
<text x="538" y="366" font-size="8" text-anchor="middle" fill="#111">✚</text>
<text x="538" y="376" font-size="5.5" text-anchor="middle" font-weight="bold" fill="#e02020">PDT</text>
<circle cx="612" cy="345" r="10" fill="#9a5a90"/>
<text x="621" y="369" font-size="5" text-anchor="middle" fill="#333">Tumor</text>
<line x1="630" y1="345" x2="644" y2="345" stroke="#333" stroke-width="0.6"/>
<circle cx="671" cy="345" r="11" fill="#8a8a8a"/><circle cx="671" cy="345" r="6" fill="#5a4a4a"/>
<text x="673" y="370" font-size="5" text-anchor="middle" fill="#333">Cell Apoptosis</text>

<!-- ========== PANEL I ========== -->
<text x="362" y="395" font-size="11" font-weight="bold" fill="#111">I</text>
<circle cx="381" cy="395" r="2.6" fill="#e02020"/><text x="387" y="398" font-size="7" fill="#222">B</text>
<circle cx="381" cy="412" r="2.6" fill="#2a80e0"/><text x="387" y="415" font-size="7" fill="#222">L</text>
<circle cx="381" cy="429" r="2.6" fill="#f08020"/><text x="387" y="432" font-size="7" fill="#222">M</text>
<circle cx="381" cy="446" r="2.6" fill="#a040e0"/><text x="387" y="449" font-size="7" fill="#222">M+L</text>
<text x="434" y="404" font-size="7" font-weight="bold" fill="#222" transform="rotate(-90 434 404)" text-anchor="middle">CD 206</text>
<g fill="#fff" stroke="#999" stroke-width="0.6">
<rect x="440" y="387" width="62" height="64"/><rect x="503" y="387" width="62" height="64"/><rect x="566" y="387" width="61" height="64"/><rect x="628" y="387" width="62" height="64"/>
</g>
<g stroke="#999" stroke-width="0.6">
<line x1="467" y1="387" x2="467" y2="451"/><line x1="440" y1="416" x2="502" y2="416"/>
<line x1="530" y1="387" x2="530" y2="451"/><line x1="503" y1="416" x2="565" y2="416"/>
<line x1="592" y1="387" x2="592" y2="451"/><line x1="566" y1="416" x2="627" y2="416"/>
<line x1="655" y1="387" x2="655" y2="451"/><line x1="628" y1="416" x2="690" y2="416"/>
</g>
<g fill="none" stroke-width="1.2">
<path d="M461 398 Q470 392 470 405 Q472 425 466 435 Q455 440 455 425 Q454 405 461 398Z" stroke="#e02020"/>
<path d="M463 408 Q468 405 467 420 Q464 430 460 425 Q458 412 463 408Z" stroke="#f06060"/>
<path d="M525 393 Q535 390 535 405 Q536 420 528 425 Q518 422 520 408 Q520 396 525 393Z" stroke="#2a80e0"/>
<path d="M527 402 Q532 402 531 413 Q528 420 524 415 Q523 405 527 402Z" stroke="#60a0f0"/>
<path d="M589 392 Q600 388 598 405 Q597 425 590 432 Q580 430 582 410 Q583 396 589 392Z" stroke="#f08020"/>
<path d="M590 402 Q595 402 594 415 Q591 425 587 418 Q586 408 590 402Z" stroke="#f0a050"/>
<path d="M653 398 Q664 398 662 410 Q660 420 652 422 Q645 420 647 410 Q648 400 653 398Z" stroke="#a040e0"/>
<path d="M654 405 Q658 406 657 413 Q654 418 651 414 Q651 407 654 405Z" stroke="#c070f0"/>
</g>
<g font-size="8" font-weight="bold" fill="#111" text-anchor="end">
<text x="500" y="448">3.88</text><text x="563" y="448">5.28</text><text x="625" y="448">3.14</text><text x="689" y="448">14.5</text>
</g>
<line x1="436" y1="453" x2="660" y2="453" stroke="#222" stroke-width="0.7"/><polygon points="660,451 665,453 660,455" fill="#222"/>
<text x="663" y="460" font-size="7" font-weight="bold" fill="#222">CD 80</text>
</svg>
</body></html>
